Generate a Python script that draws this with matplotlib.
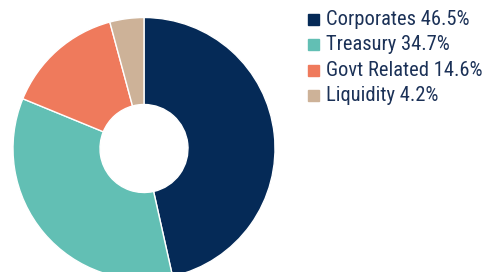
import matplotlib
matplotlib.use("Agg")
import matplotlib.pyplot as plt

categories = ["Corporates", "Treasury", "Govt Related", "Liquidity"]
values = [46.5, 34.7, 14.6, 4.2]
colors = ["#052a57", "#62bfb4", "#ef7a5c", "#cdb298"]

fam = ["Roboto Condensed", "DejaVu Sans"]

W, H = 484, 272
fig = plt.figure(figsize=(W / 100, H / 100), dpi=100)
cx, cy, R, r = 144, 148.5, 131, 44
ax = fig.add_axes([(cx - R) / W, (H - cy - R) / H, 2 * R / W, 2 * R / H])
ax.pie(values, colors=colors, startangle=90, counterclock=False, radius=1,
       wedgeprops=dict(width=1 - r / R, edgecolor="white", linewidth=1))
ax.set_xlim(-1, 1)
ax.set_ylim(-1, 1)
ax.set_aspect("equal")
ax.axis("off")

text_color = "#1b3157"
y0, dy = 19.5, 25.3
for i, (c, v, col) in enumerate(zip(categories, values, colors)):
    yc = y0 + i * dy
    fig.patches.append(plt.Rectangle((308 / W, (H - yc - 5.5) / H), 11 / W, 11 / H,
                                     transform=fig.transFigure, color=col, figure=fig))
    fig.text(326 / W, (H - yc) / H, f"{c} {v}%", fontsize=14.8, family=fam,
             color=text_color, va="center", ha="left")

fig.savefig("out.png", dpi=100)
